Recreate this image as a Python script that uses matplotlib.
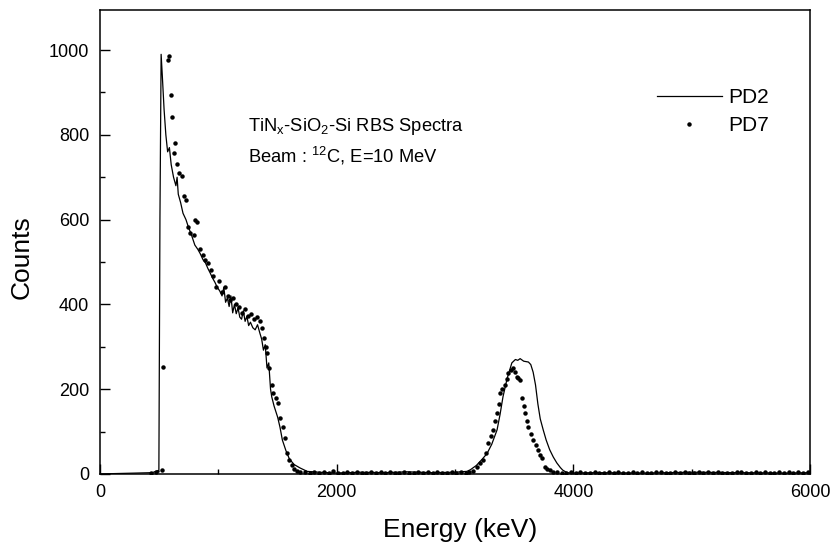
import matplotlib.pyplot as plt
from matplotlib.ticker import MultipleLocator

plt.rcParams['font.family'] = ['Liberation Sans', 'DejaVu Sans']
plt.rcParams['mathtext.fontset'] = 'custom'
plt.rcParams['mathtext.rm'] = 'Liberation Sans'

# PD2 spectrum (solid line)
pd2_energy = [0, 300, 440, 470, 488, 496, 505, 515, 525, 540, 555, 570, 585, 600, 620, 640,
              650, 660, 680, 700, 725, 745, 770, 800, 825, 845, 870, 890, 910, 930, 950, 970,
              990, 1010, 1030, 1045, 1060, 1075, 1090, 1105, 1120, 1135, 1150, 1165, 1180,
              1195, 1210, 1225, 1240, 1255, 1270, 1290, 1310, 1330, 1350, 1365, 1380, 1395,
              1410, 1425, 1440, 1450, 1470, 1500, 1520, 1540, 1570, 1600, 1640, 1690, 1750,
              1850, 2000, 2200, 2400, 2600, 2800, 3000, 3100, 3130, 3180, 3230, 3270, 3310,
              3355, 3380, 3405, 3440, 3480, 3510, 3530, 3550, 3580, 3620, 3640, 3660, 3680,
              3700, 3720, 3745, 3770, 3800, 3830, 3860, 3890, 3910, 3940, 3970, 4200, 4600,
              5000, 5400, 5800, 6000]
pd2_counts = [0, 2, 3, 6, 8, 4, 600, 990, 940, 860, 800, 760, 770, 730, 700, 680,
              700, 660, 640, 615, 600, 583, 565, 540, 530, 520, 505, 498, 485, 474, 462, 452,
              440, 432, 420, 440, 405, 415, 395, 420, 380, 400, 378, 392, 370,
              365, 385, 360, 372, 350, 358, 345, 340, 352, 332, 318, 292, 305,
              250, 262, 200, 182, 160, 134, 110, 80, 55, 35, 22, 14, 6,
              4, 2, 4, 3, 5, 3, 4, 6, 10, 20, 35, 48, 70,
              104, 140, 182, 225, 262, 270, 268, 272, 266, 264, 258, 240, 210,
              165, 130, 104, 80, 57, 40, 26, 15, 9, 4, 2, 3, 2,
              4, 3, 2, 3]

# PD7 spectrum (dots)
pd7_energy = [430, 470, 520, 530, 572, 580, 595, 610, 620, 635, 650, 670, 690, 710, 725,
              740, 760, 790, 805, 820, 845, 870, 890, 910, 935, 955, 980, 1005, 1030, 1055,
              1080, 1100, 1125, 1150, 1175, 1200, 1225, 1250, 1275, 1300, 1325, 1350, 1370,
              1385, 1400, 1410, 1430, 1450, 1465, 1485, 1505, 1520, 1545, 1560, 1580, 1600,
              1620, 1640, 1660, 1690, 1730, 1770, 1810, 1850, 1890, 1930, 1970, 2010, 2050,
              2090, 2130, 2170, 2210, 2250, 2290, 2330, 2370, 2410, 2450, 2490, 2530, 2570,
              2610, 2650, 2690, 2730, 2770, 2810, 2850, 2890, 2930, 2970, 3010, 3050, 3090,
              3120, 3150, 3185, 3210, 3240, 3260, 3280, 3300, 3320, 3340, 3355, 3370, 3380,
              3400, 3420, 3435, 3450, 3470, 3490, 3505, 3520, 3535, 3550, 3565, 3580, 3590,
              3605, 3620, 3640, 3660, 3680, 3700, 3720, 3735, 3760, 3780, 3800, 3830, 3860,
              3900, 3940, 3980, 4020, 4060, 4100, 4140, 4180, 4220, 4260, 4300, 4340, 4380,
              4420, 4460, 4500, 4540, 4580, 4620, 4660, 4700, 4740, 4780, 4820, 4860, 4900,
              4940, 4980, 5020, 5060, 5100, 5140, 5180, 5220, 5260, 5300, 5340, 5380, 5420,
              5460, 5500, 5540, 5580, 5620, 5660, 5700, 5740, 5780, 5820, 5860, 5900, 5940,
              5980]
pd7_counts = [3, 5, 10, 252, 976, 985, 894, 842, 757, 781, 731, 710, 703, 656, 646,
              583, 568, 564, 600, 595, 530, 517, 505, 498, 480, 467, 441, 455, 430, 440,
              420, 410, 415, 400, 395, 380, 388, 372, 378, 365, 370, 361, 345,
              321, 300, 285, 250, 210, 191, 180, 167, 132, 111, 85, 50, 33,
              21, 12, 8, 5, 4, 3, 5, 2, 4, 3, 6, 3, 2,
              4, 3, 5, 2, 3, 4, 2, 5, 3, 4, 2, 3, 5,
              3, 2, 4, 3, 5, 2, 4, 3, 3, 5, 2, 4, 3,
              5, 8, 17, 25, 33, 50, 73, 90, 104, 125, 144, 165, 191,
              200, 210, 225, 238, 245, 250, 240, 229, 226, 222, 179, 160, 144,
              125, 111, 95, 80, 68, 57, 45, 38, 17, 12, 9, 5, 4,
              3, 2, 4, 3, 5, 2, 3, 4, 3, 2, 5, 3, 4,
              2, 3, 5, 3, 4, 2, 3, 4, 5, 3, 2, 4, 3,
              5, 2, 3, 4, 3, 5, 2, 4, 3, 3, 2, 4, 5,
              3, 2, 4, 3, 5, 3, 2, 4, 3, 5, 2, 4, 3,
              4]

fig = plt.figure(figsize=(8.35, 5.46), dpi=100)
ax = fig.add_axes([0.120, 0.132, 0.850, 0.850])

ax.plot(pd2_energy, pd2_counts, color='black', linewidth=0.9, label='PD2')
ax.plot(pd7_energy, pd7_counts, linestyle='none', marker='o', markersize=2.2,
        color='black', label='PD7')

ax.set_xlim(0, 6000)
ax.set_ylim(0, 1095)

# ticks: inward, majors with labels, minors in between
ax.xaxis.set_major_locator(MultipleLocator(2000))
ax.xaxis.set_minor_locator(MultipleLocator(1000))
ax.yaxis.set_major_locator(MultipleLocator(200))
ax.yaxis.set_minor_locator(MultipleLocator(100))
ax.tick_params(which='both', direction='in', width=1, labelsize=13)
ax.tick_params(which='major', length=7)
ax.tick_params(which='minor', length=3.5)
ax.tick_params(axis='x', which='major', pad=7)
ax.tick_params(axis='y', which='major', pad=8)
for s in ax.spines.values():
    s.set_linewidth(1.1)

ax.set_xlabel('Energy (keV)', fontsize=19)
ax.set_ylabel('Counts', fontsize=19)
ax.xaxis.set_label_coords(0.507, -0.095)
ax.yaxis.set_label_coords(-0.094, 0.468)

ax.text(0.208, 0.739, r'TiN$_\mathregular{x}$-SiO$_\mathregular{2}$-Si RBS Spectra',
        transform=ax.transAxes, fontsize=13.2, va='baseline')
ax.text(0.208, 0.672, r'Beam : $^\mathregular{12}$C, E=10 MeV',
        transform=ax.transAxes, fontsize=13.2, va='baseline')

ax.legend(loc='upper left', bbox_to_anchor=(657 / 835, 1 - 88 / 546),
          bbox_transform=fig.transFigure, frameon=False, fontsize=15,
          handlelength=3.1, handletextpad=0.3, borderpad=0, borderaxespad=0,
          labelspacing=0.43, numpoints=1, markerscale=1.0)

fig.savefig('out.png', dpi=100)
